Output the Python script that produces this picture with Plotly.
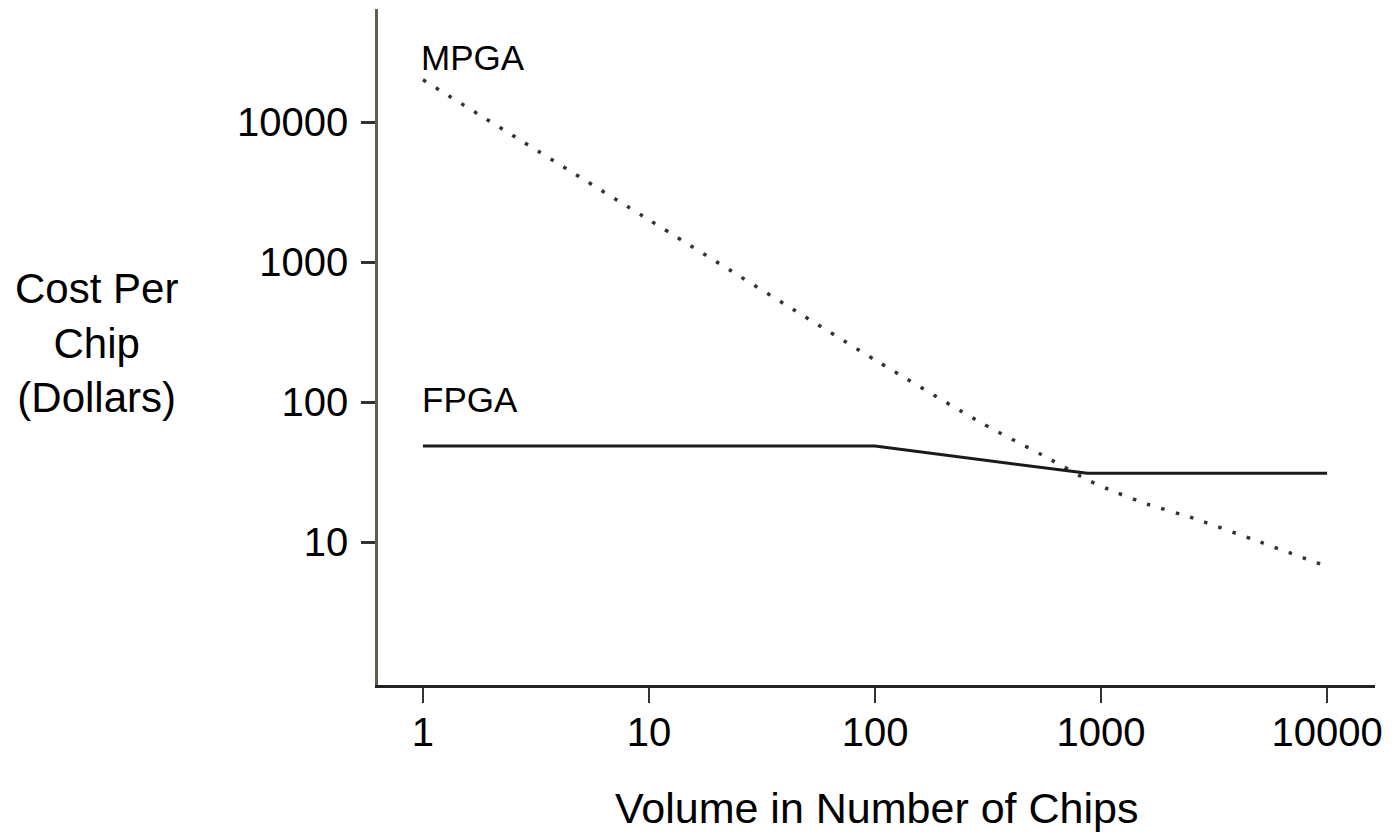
import plotly.graph_objects as go

# Data
mpga_volume = [1, 10, 100, 300, 580, 876, 1153, 1600, 2570, 4670, 10000]
mpga_cost = [20000, 2000, 200, 70, 40, 27.7, 22.8, 18.7, 14.8, 10.5, 6.7]

fpga_volume = [1, 100, 870, 10000]
fpga_cost = [48.5, 48.5, 31, 31]

x_ticks = [1, 10, 100, 1000, 10000]
x_tick_text = ["1", "10", "100", "1000", "10000"]
y_ticks = [10, 100, 1000, 10000]
y_tick_text = ["10", "100", "1000", "10000"]

FONT = "Liberation Sans, Arial, Helvetica, sans-serif"
AXIS_COLOR = "#5f5f50"

fig = go.Figure()
fig.add_trace(go.Scatter(
    x=mpga_volume, y=mpga_cost, mode="lines",
    line=dict(color="#333333", width=3.5, dash="3.5px,11.5px", shape="spline", smoothing=0.5),
    showlegend=False, hoverinfo="skip",
))
fig.add_trace(go.Scatter(
    x=fpga_volume, y=fpga_cost, mode="lines",
    line=dict(color="#1a1a1a", width=3),
    showlegend=False, hoverinfo="skip",
))

fig.update_layout(
    width=1388, height=829,
    margin=dict(l=370, r=21, t=1, b=152),
    paper_bgcolor="white", plot_bgcolor="white",
    font=dict(family=FONT, color="black", size=40),
    xaxis=dict(
        type="log", range=[-0.199, 4.212],
        tickvals=x_ticks, ticktext=x_tick_text,
        showgrid=False, zeroline=False,
        showline=True, linecolor="#222222", linewidth=2.5,
        ticks="outside", ticklen=15, tickwidth=2, tickcolor="#333333",
        tickfont=dict(size=40, family=FONT),
        ticklabelstandoff=-5,
    ),
    yaxis=dict(
        type="log", range=[-0.02, 4.807],
        tickvals=y_ticks, ticktext=y_tick_text,
        showgrid=False, zeroline=False,
        showline=True, linecolor=AXIS_COLOR, linewidth=2.5,
        ticks="outside", ticklen=14, tickwidth=2.5, tickcolor="#333333",
        tickfont=dict(size=40, family=FONT),
        ticklabelstandoff=5,
    ),
    annotations=[
        dict(text="MPGA", x=0, y=4.464, xref="x", yref="y", xshift=-4,
             xanchor="left", yanchor="middle", showarrow=False,
             font=dict(size=35, family=FONT, color="black")),
        dict(text="FPGA", x=0, y=2.018, xref="x", yref="y", xshift=-3,
             xanchor="left", yanchor="middle", showarrow=False,
             font=dict(size=35, family=FONT, color="black")),
        dict(text="Cost Per<br>Chip<br>(Dollars)", x=-0.282, y=0.506,
             xref="paper", yref="paper", xanchor="center", yanchor="middle",
             showarrow=False, align="center",
             font=dict(size=42, family=FONT, color="black")),
        dict(text="Volume in Number of Chips", x=0.5, y=-0.182,
             xref="paper", yref="paper", xanchor="center", yanchor="middle",
             showarrow=False,
             font=dict(size=43, family=FONT, color="black")),
    ],
)

fig.write_html("out.html")
